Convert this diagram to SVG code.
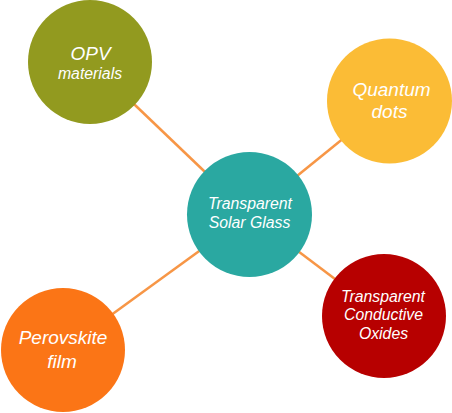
<svg xmlns="http://www.w3.org/2000/svg" width="452" height="413" viewBox="0 0 452 413">
<style>
.bg{fill:#ffffff}
.conn line{stroke:#F79646;stroke-width:2.5;fill:none}
text{font-family:"Liberation Sans",Arial,sans-serif;font-style:italic;fill:#ffffff;text-anchor:middle}
.s{font-size:15.8px}
.l{font-size:19px}
</style>
<rect class="bg" x="0" y="0" width="452" height="413"/>
<g id="connectors" class="conn">
<line x1="90" y1="62" x2="249.5" y2="214.5"/>
<line x1="389.5" y1="101" x2="249.5" y2="214.5"/>
<line x1="63" y1="350" x2="249.5" y2="214.5"/>
<line x1="384" y1="316" x2="249.5" y2="214.5"/>
</g>
<g id="node-opv">
<circle cx="90" cy="62" r="62" fill="#929A1F"/>
<text class="l" x="90.5" y="60">OPV</text>
<text class="s" x="90" y="79">materials</text>
</g>
<g id="node-quantum">
<circle cx="389.5" cy="101" r="62.5" fill="#FBBC36"/>
<text class="l" x="391.5" y="96">Quantum</text>
<text class="l" x="389.5" y="118">dots</text>
</g>
<g id="node-center">
<circle cx="249.5" cy="214.5" r="62.5" fill="#2AA8A1"/>
<text class="s" x="250" y="209">Transparent</text>
<text class="s" x="249.5" y="228">Solar Glass</text>
</g>
<g id="node-tco">
<circle cx="384" cy="316" r="62" fill="#B70000"/>
<text class="s" x="383" y="302">Transparent</text>
<text class="s" x="383.5" y="320">Conductive</text>
<text class="s" x="383.5" y="339">Oxides</text>
</g>
<g id="node-perovskite">
<circle cx="63" cy="350" r="62" fill="#FB7516"/>
<text class="l" x="63" y="344">Perovskite</text>
<text class="l" x="62" y="368">film</text>
</g>
</svg>
